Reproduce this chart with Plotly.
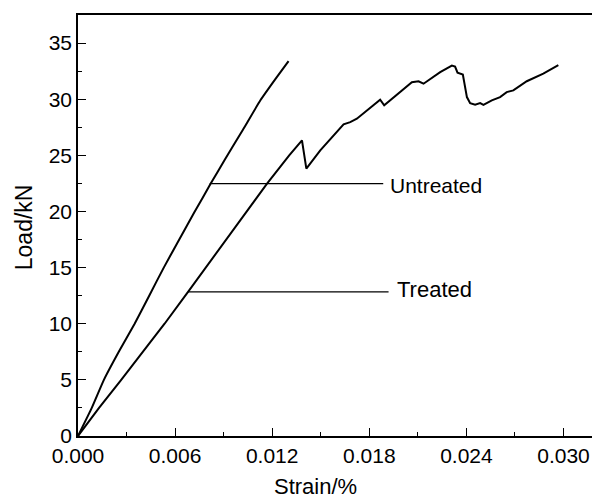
import plotly.graph_objects as go

# Untreated (left, steeper) curve
untreated_strain = [0.0, 0.00085, 0.0016, 0.00252, 0.0035, 0.0044, 0.0053, 0.00612,
                    0.00718, 0.0082, 0.00905, 0.0102, 0.01127, 0.01225, 0.01301]
untreated_load = [0.0, 2.5, 5.0, 7.5, 10.0, 12.5, 15.0, 17.14,
                  19.9, 22.48, 24.56, 27.3, 29.9, 31.9, 33.39]

# Treated (right) curve
treated_strain = [0.0, 0.0013, 0.00267, 0.00402, 0.00535, 0.0068, 0.0079, 0.009,
                  0.0104, 0.01168, 0.01305, 0.01384, 0.01411, 0.01497, 0.01641, 0.01682, 0.01723,
                  0.01785, 0.01867, 0.01892, 0.0199, 0.02063, 0.02104, 0.02135, 0.02238, 0.0231,
                  0.0233, 0.02345, 0.02378, 0.02403, 0.02423, 0.02454, 0.02485, 0.02505, 0.02557,
                  0.02608, 0.02649, 0.0269, 0.02773, 0.02875, 0.02968]
treated_load = [0.0, 2.5, 5.0, 7.5, 10.0, 12.84, 15.0, 17.14,
                19.9, 22.48, 25.0, 26.33, 23.82, 25.44, 27.76, 27.96, 28.26,
                29.0, 29.95, 29.45, 30.63, 31.52, 31.6, 31.38, 32.41, 33.0,
                32.9, 32.36, 32.2, 30.19, 29.65, 29.5, 29.65, 29.5, 29.9,
                30.19, 30.63, 30.78, 31.6, 32.27, 33.03]

# label leader lines: [x0, x1], y
untreated_label_x = [0.00814, 0.01886]
untreated_label_y = 22.48
treated_label_x = [0.0068, 0.01919]
treated_label_y = 12.84

x_ticks = [0.0, 0.006, 0.012, 0.018, 0.024, 0.030]
x_tick_text = ["0.000", "0.006", "0.012", "0.018", "0.024", "0.030"]
y_ticks = [0, 5, 10, 15, 20, 25, 30, 35]

FONT = "Liberation Sans, Arial, sans-serif"

fig = go.Figure()
fig.add_trace(go.Scatter(x=untreated_strain, y=untreated_load, mode="lines",
                         line=dict(color="black", width=2, shape="spline", smoothing=0.4),
                         name="Untreated", showlegend=False))
fig.add_trace(go.Scatter(x=treated_strain, y=treated_load, mode="lines",
                         line=dict(color="black", width=2), name="Treated", showlegend=False))

fig.add_shape(type="line", x0=untreated_label_x[0], x1=untreated_label_x[1],
              y0=untreated_label_y, y1=untreated_label_y, line=dict(color="black", width=1.2))
fig.add_shape(type="line", x0=treated_label_x[0], x1=treated_label_x[1],
              y0=treated_label_y, y1=treated_label_y, line=dict(color="black", width=1.2))

fig.add_annotation(x=untreated_label_x[1] + 0.0003, y=untreated_label_y - 0.2, text="Untreated",
                   showarrow=False, xanchor="left", yanchor="middle",
                   font=dict(family=FONT, size=21, color="black"))
fig.add_annotation(x=treated_label_x[1] + 0.0004, y=treated_label_y + 0.2, text="Treated",
                   showarrow=False, xanchor="left", yanchor="middle",
                   font=dict(family=FONT, size=22, color="black"))

# axis titles
fig.add_annotation(xref="paper", yref="paper", x=0.4616, y=-0.121, text="Strain/%",
                   showarrow=False, xanchor="center", yanchor="middle",
                   font=dict(family=FONT, size=22, color="black"))
fig.add_annotation(xref="paper", yref="paper", x=-0.105, y=0.496, text="Load/kN",
                   showarrow=False, xanchor="center", yanchor="middle", textangle=-90,
                   font=dict(family=FONT, size=23, color="black"))

fig.update_layout(
    width=592, height=498,
    margin=dict(l=77.5, r=0, t=14.5, b=62, autoexpand=False),
    paper_bgcolor="white", plot_bgcolor="white",
    font=dict(family=FONT, color="black"),
)
fig.update_xaxes(range=[0, 0.03176], showgrid=False, zeroline=False, automargin=False,
                 showline=True, linecolor="black", linewidth=1.5, mirror=True,
                 ticks="inside", ticklen=8, tickwidth=1.2, tickcolor="black",
                 tickvals=x_ticks, ticktext=x_tick_text,
                 tickfont=dict(family=FONT, size=21, color="black"),
                 minor=dict(ticks="inside", ticklen=4, tickwidth=1.2, tickcolor="black", dtick=0.003, tick0=0))
fig.update_yaxes(range=[0, 37.5], showgrid=False, zeroline=False, automargin=False,
                 showline=True, linecolor="black", linewidth=1.5, mirror=False,
                 ticks="inside", ticklen=8, tickwidth=1.2, tickcolor="black",
                 tickvals=y_ticks,
                 tickfont=dict(family=FONT, size=21, color="black"),
                 minor=dict(ticks="inside", ticklen=4, tickwidth=1.2, tickcolor="black", dtick=2.5, tick0=0))

fig.write_html("out.html", config={"displayModeBar": False},
               post_script="document.body.style.margin='0';document.body.style.overflow='hidden';")
